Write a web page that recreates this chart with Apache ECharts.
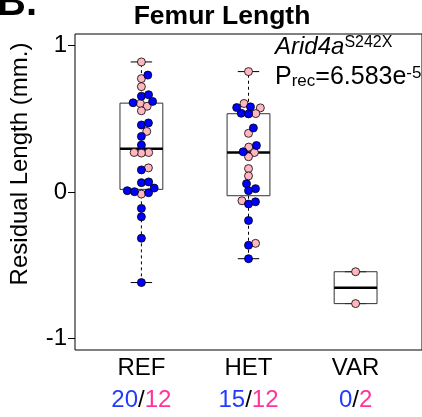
<!DOCTYPE html>
<html><head><meta charset="utf-8">
<script src="https://cdn.jsdelivr.net/npm/echarts@6/dist/echarts.min.js"></script>
<style>html,body{margin:0;padding:0;background:#fff}#c{width:422px;height:417px}</style>
</head><body><div id="c"></div>
<script>
// ---- data ----
const categories = ['REF', 'HET', 'VAR'];
const maleCounts = [20, 15, 0];
const femaleCounts = [12, 12, 2];
const refMale = [0.799, 0.655, 0.665, 0.610, 0.619, 0.458, 0.472, 0.380, 0.321, 0.151, 0.064, 0.069, 0.009, 0.002, -0.005, 0.027, -0.112, -0.170, -0.316, -0.619];
const refFemale = [0.889, 0.775, 0.720, 0.605, 0.586, 0.555, 0.414, 0.270, 0.266, 0.270, 0.165, -0.014];
const hetMale = [0.577, 0.582, 0.538, 0.534, 0.438, 0.318, 0.275, 0.057, 0.023, 0.009, -0.082, -0.067, -0.195, -0.364, -0.456];
const hetFemale = [0.823, 0.605, 0.575, 0.536, 0.401, 0.307, 0.270, 0.241, 0.160, 0.110, -0.060, -0.351];
const varMale = [];
const varFemale = [-0.545, -0.763];
const yTicks = [-1, 0, 1];
const titleText = 'Femur Length';
const yAxisTitle = 'Residual Length (mm.)';
const panelLabel = 'B.';
const geneName = 'Arid4a', alleleName = 'S242X';
const pLabel = 'P', pSub = 'rec', pMantissa = '=6.583e', pExp = '-5';

const maleGroups = [refMale, hetMale, varMale];
const femaleGroups = [refFemale, hetFemale, varFemale];

const FONT = "'Liberation Sans', Arial, sans-serif";
const BLUE = '#0000ff', PINK = '#ffb6c1';
const BLUE_TXT = '#1f3cff', PINK_TXT = '#ff3399';

function fivenum(a) {
  const x = [...a].sort((p, q) => p - q), n = x.length;
  const n4 = Math.floor((n + 3) / 2) / 2;
  const d = [1, n4, (n + 1) / 2, n + 1 - n4, n];
  return d.map(v => 0.5 * (x[Math.floor(v) - 1] + x[Math.ceil(v) - 1]));
}
const boxData = categories.map((c, i) => {
  const all = maleGroups[i].concat(femaleGroups[i]);
  const f = fivenum(all);
  const iqr = f[3] - f[1];
  const inside = all.filter(v => v >= f[1] - 1.5 * iqr && v <= f[3] + 1.5 * iqr);
  return [i + 1, Math.min(...inside), f[1], f[2], f[3], Math.max(...inside)];
});

const chart = echarts.init(document.getElementById('c'), null, {renderer: 'canvas'});

const baseOption = {
  animation: false,
  backgroundColor: '#fff',
  grid: {left: 75, top: 34, right: -5, bottom: 67, show: true, borderColor: '#000', borderWidth: 1, backgroundColor: 'transparent'},
  xAxis: {
    type: 'value', min: 0.38, max: 3.62,
    splitLine: {show: false}, axisLine: {show: false}, axisTick: {show: false},
    axisLabel: {
      customValues: [1, 2, 3], margin: 2, fontFamily: FONT,
      formatter: v => {
        const i = Math.round(v) - 1;
        return '{n|' + categories[i] + '}\n{m|' + maleCounts[i] + '}{s|/}{f|' + femaleCounts[i] + '}';
      },
      rich: {
        n: {fontSize: 24, color: '#000', fontFamily: FONT, lineHeight: 32},
        m: {fontSize: 24, color: BLUE_TXT, fontFamily: FONT, lineHeight: 32},
        s: {fontSize: 24, color: '#000', fontFamily: FONT, lineHeight: 32},
        f: {fontSize: 24, color: PINK_TXT, fontFamily: FONT, lineHeight: 32}
      }
    }
  },
  yAxis: {
    type: 'value', min: -1.08, max: 1.08,
    splitLine: {show: false}, axisLine: {show: false},
    axisTick: {show: true, customValues: yTicks, length: 7, lineStyle: {color: '#000', width: 1}},
    axisLabel: {customValues: yTicks, fontSize: 24, color: '#000', fontFamily: FONT, margin: 8}
  },
  graphic: [
    {type: 'text', left: -3, top: -16, style: {text: panelLabel, font: 'bold 40px ' + FONT, fill: '#000'}},
    {type: 'text', x: 222, y: 17, style: {text: titleText, font: 'bold 26.5px ' + FONT, fill: '#000', textAlign: 'center', textVerticalAlign: 'middle'}},
    {type: 'text', x: 20, y: 164, rotation: Math.PI / 2, style: {text: yAxisTitle, font: '24px ' + FONT, fill: '#000', textAlign: 'center', textVerticalAlign: 'middle'}},
    {type: 'text', x: 275, y: 35, style: {
      text: '{g|' + geneName + '}{a|' + alleleName + '}',
      rich: {
        g: {fontSize: 24, fontStyle: 'italic', fontFamily: FONT, color: '#000'},
        a: {fontSize: 16, fontFamily: FONT, color: '#000', verticalAlign: 'top', padding: [0, 0, 8, 0]}
      }
    }},
    {type: 'text', x: 275, y: 65, style: {
      text: '{p|' + pLabel + '}{r|' + pSub + '}{p|' + pMantissa + '}{e|' + pExp + '}',
      rich: {
        p: {fontSize: 25, fontFamily: FONT, color: '#000'},
        r: {fontSize: 17, fontFamily: FONT, color: '#000', verticalAlign: 'bottom', padding: [6, 0, 0, 0]},
        e: {fontSize: 17, fontFamily: FONT, color: '#000', verticalAlign: 'top', padding: [0, 0, 8, 0]}
      }
    }}
  ],
  series: [{
    type: 'custom', z: 2,
    data: boxData,
    renderItem: (params, api) => {
      const x = api.value(0), lo = api.value(1), q1 = api.value(2), med = api.value(3), q3 = api.value(4), hi = api.value(5);
      const c = (xx, yy) => api.coord([xx, yy]);
      const bw = 0.2, sw = 0.1;
      const cx = c(x, 0)[0];
      const l = c(x - bw, 0)[0], r = c(x + bw, 0)[0];
      const sl = c(x - sw, 0)[0], sr = c(x + sw, 0)[0];
      const yLo = c(x, lo)[1], yQ1 = c(x, q1)[1], yMed = c(x, med)[1], yQ3 = c(x, q3)[1], yHi = c(x, hi)[1];
      const dash = {stroke: '#000', lineWidth: 1, lineDash: [3, 3]};
      const solid = {stroke: '#000', lineWidth: 1};
      return {type: 'group', children: [
        {type: 'line', shape: {x1: cx, y1: yQ3, x2: cx, y2: yHi}, style: dash},
        {type: 'line', shape: {x1: cx, y1: yQ1, x2: cx, y2: yLo}, style: dash},
        {type: 'line', shape: {x1: sl, y1: yHi, x2: sr, y2: yHi}, style: solid},
        {type: 'line', shape: {x1: sl, y1: yLo, x2: sr, y2: yLo}, style: solid},
        {type: 'rect', shape: {x: l, y: yQ3, width: r - l, height: yQ1 - yQ3}, style: {fill: 'none', stroke: '#333', lineWidth: 1}},
        {type: 'line', shape: {x1: l, y1: yMed, x2: r, y2: yMed}, style: {stroke: '#000', lineWidth: 2.5}}
      ]};
    }
  }]
};
chart.setOption(baseOption);

// beeswarm (swarm method, ascending priority) computed in pixel space from the axis scales
const p0 = chart.convertToPixel({gridIndex: 0}, [1, 0]);
const p1 = chart.convertToPixel({gridIndex: 0}, [2, 1]);
const pxPerX = p1[0] - p0[0], pxPerY = p0[1] - p1[1];
const D = 7.3;
function swarm(vals) {
  const idx = vals.map((v, i) => i).sort((a, b) => vals[a] - vals[b] || a - b);
  const placed = [];
  const off = new Array(vals.length).fill(0);
  idx.forEach(i => {
    const yi = vals[i] * pxPerY / D;
    const pre = placed.filter(p => Math.abs(yi - p.y) < 1);
    let o = 0;
    if (pre.length) {
      const cand = [0];
      pre.forEach(p => cand.push(p.x + Math.sqrt(1 - (yi - p.y) ** 2)));
      pre.forEach(p => cand.push(p.x - Math.sqrt(1 - (yi - p.y) ** 2)));
      let best = Infinity;
      cand.forEach(cx => {
        const bad = pre.some(p => (yi - p.y) ** 2 + (cx - p.x) ** 2 < 0.999);
        if (!bad && Math.abs(cx) < Math.abs(best)) best = cx;
      });
      o = best;
    }
    off[i] = o;
    placed.push({x: o, y: yi});
  });
  return off.map(o => o * D / pxPerX);
}
const pts = [];
categories.forEach((c, g) => {
  const vals = femaleGroups[g].concat(maleGroups[g]);
  const cols = femaleGroups[g].map(() => PINK).concat(maleGroups[g].map(() => BLUE));
  const offs = swarm(vals);
  vals.forEach((v, i) => pts.push({value: [g + 1 + offs[i], v], itemStyle: {color: cols[i]}}));
});
chart.setOption({series: [baseOption.series[0], {
  type: 'scatter', z: 3, symbol: 'circle', symbolSize: 8,
  itemStyle: {borderColor: '#000', borderWidth: 0.8, opacity: 1},
  data: pts
}]});
</script></body></html>
